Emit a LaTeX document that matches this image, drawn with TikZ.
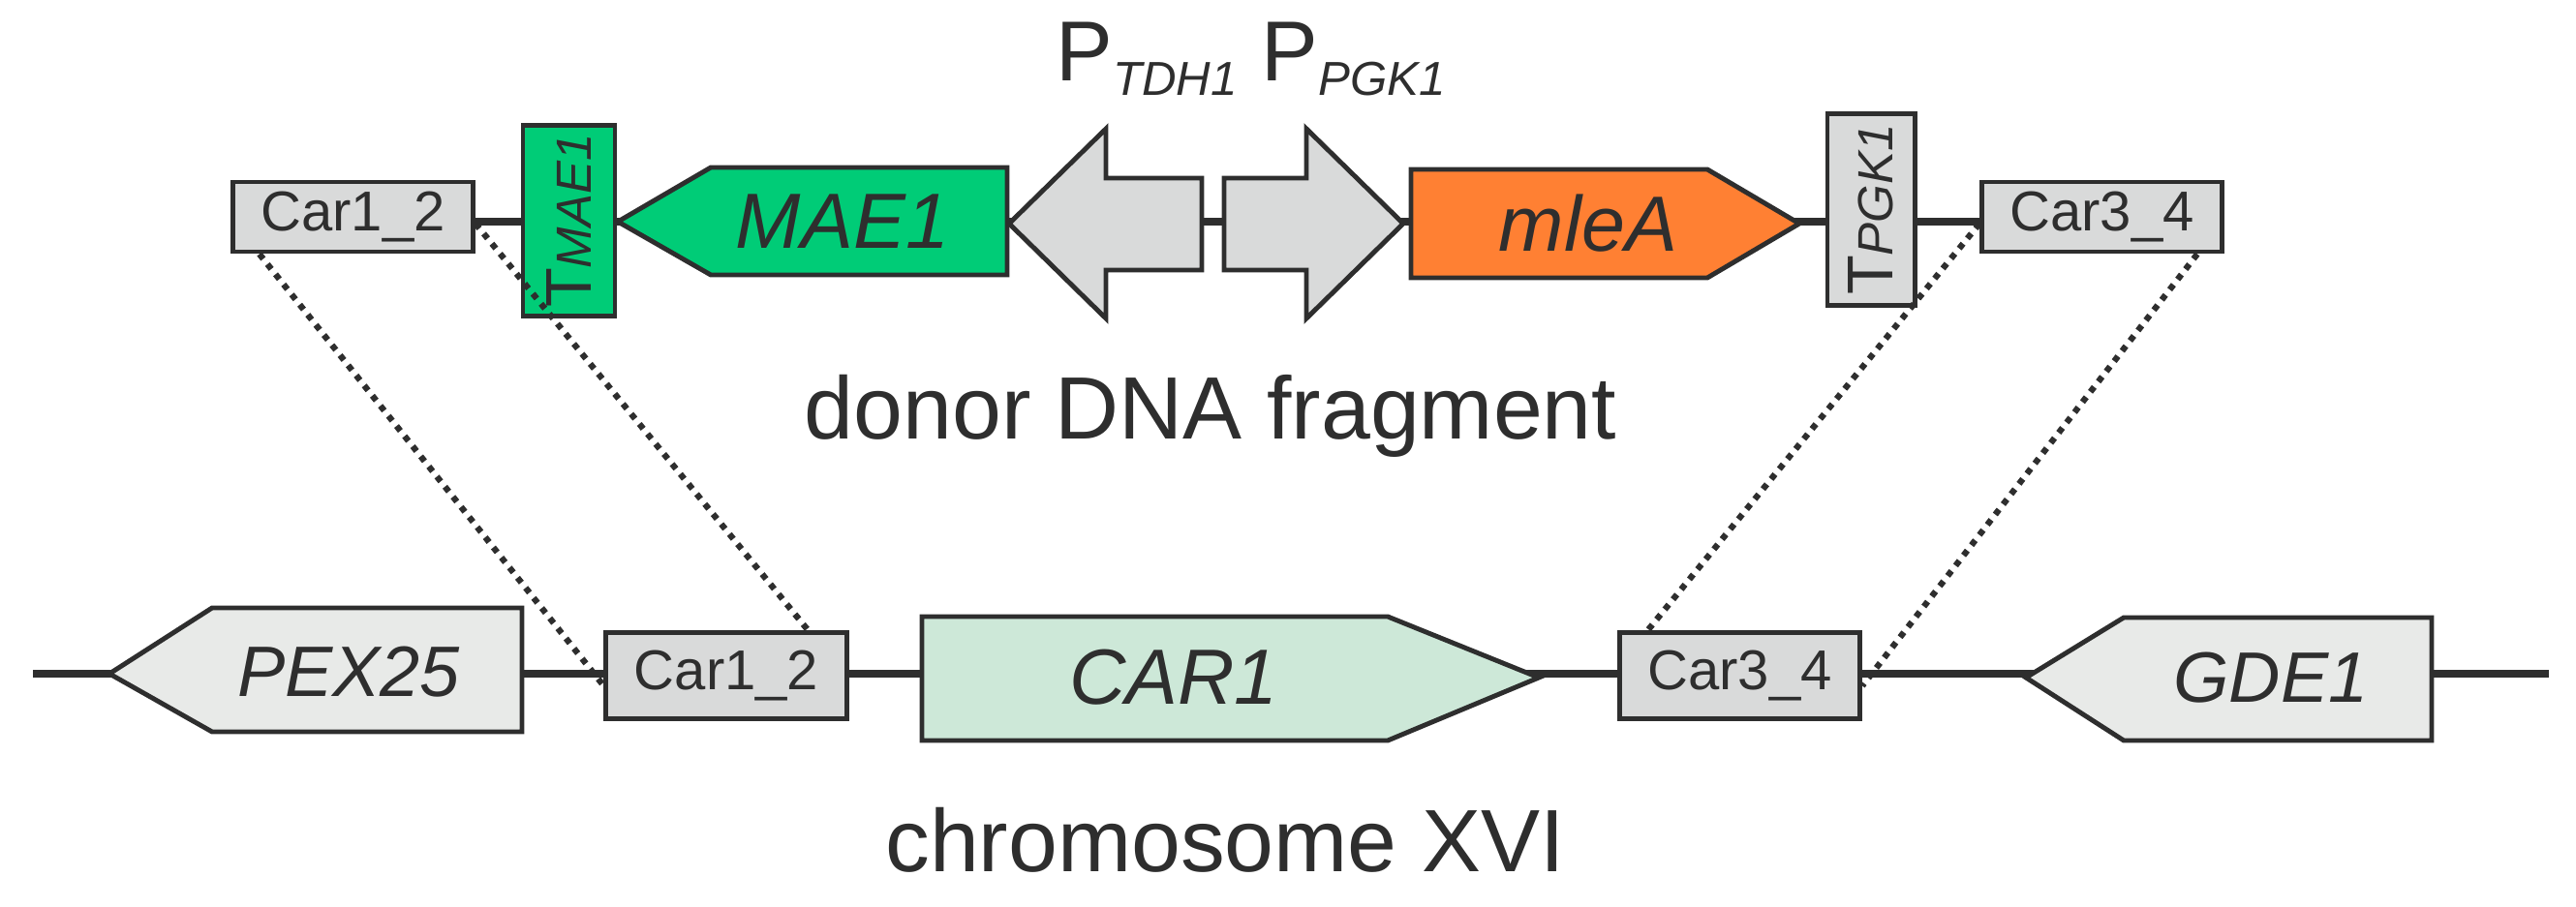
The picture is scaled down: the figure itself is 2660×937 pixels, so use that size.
\documentclass[tikz,border=0pt]{standalone}
\usepackage{fontspec}
\setmainfont{Liberation Sans}
\definecolor{ink}{HTML}{2E2E2E}
\definecolor{boxgray}{HTML}{D9DADA}
\definecolor{genegray}{HTML}{E8EAE8}
\definecolor{maegreen}{HTML}{00CC77}
\definecolor{mleorange}{HTML}{FF8033}
\definecolor{cargreen}{HTML}{CDE8D8}
\begin{document}
\begin{tikzpicture}[x=0.01cm,y=-0.01cm,
  every node/.style={text=ink},
  part/.style={draw=ink, line width=1.4pt},
  backbone/.style={draw=ink, line width=2.4pt},
  link/.style={draw=ink, line width=1.8pt, dotted},
  car/.style={part, fill=boxgray, rectangle, minimum width=2.48cm, inner sep=0pt, font=\fontsize{16.5}{16.5}\selectfont},
  cartop/.style={car, minimum height=0.72cm},
  carbot/.style={car, minimum height=0.89cm},
  gene/.style={font=\fontsize{23}{23}\selectfont\itshape},
  big/.style={font=\fontsize{26}{26}\selectfont}]
\useasboundingbox (0,0) rectangle (2660,937);

% backbones
\coordinate (tl) at (489,229); \coordinate (tr) at (2047,229);
\coordinate (bl) at (34,696);  \coordinate (br) at (2632,696);
\draw[backbone] (tl) -- (tr);
\draw[backbone] (bl) -- (br);

% donor fragment
\node[cartop] (c12t) at (364.5,224) {Car1\_2};
\node[cartop] (c34t) at (2170.5,224) {Car3\_4};
\node[part, fill=maegreen, rectangle, minimum width=0.95cm, minimum height=1.96cm, inner sep=0pt] (tmae) at (587.5,228) {};
\node[rotate=90] at (tmae.center) {\fontsize{19}{19}\selectfont T\fontsize{14.5}{14.5}\selectfont\itshape MAE1};
\node[part, fill=boxgray, rectangle, minimum width=0.90cm, minimum height=1.97cm, inner sep=0pt] (tpgk) at (1932,216.5) {};
\node[rotate=90] at (tpgk.center) {\fontsize{19}{19}\selectfont T\fontsize{14.5}{14.5}\selectfont\itshape PGK1};

\filldraw[part, fill=maegreen] (638,229) -- (734,173) -- (1040,173) -- (1040,284) -- (734,284) -- cycle;
\node[gene] (mae) at (870,229) {MAE1};
\filldraw[part, fill=mleorange] (1457,175) -- (1763,175) -- (1858,231) -- (1763,287) -- (1457,287) -- cycle;
\node[gene] (mle) at (1640,231) {mleA};

\filldraw[part, fill=boxgray] (1042,231) -- (1142,133) -- (1142,184) -- (1241,184) -- (1241,279) -- (1142,279) -- (1142,329) -- cycle;
\filldraw[part, fill=boxgray] (1449,231) -- (1349,133) -- (1349,184) -- (1264,184) -- (1264,279) -- (1349,279) -- (1349,329) -- cycle;
\node[anchor=base west, inner sep=0pt] (ptdh) at (1090,84) {\fontsize{25}{25}\selectfont P\fontsize{14}{14}\selectfont\itshape\raisebox{-0.3em}{TDH1}};
\node[anchor=base west, inner sep=0pt] (ppgk) at (1302,84) {\fontsize{25}{25}\selectfont P\fontsize{14}{14}\selectfont\itshape\raisebox{-0.3em}{PGK1}};
\node[big, anchor=base] (donor) at (1250,454) {donor DNA fragment};

% chromosome
\filldraw[part, fill=genegray] (113,696) -- (219,628) -- (539,628) -- (539,756) -- (219,756) -- cycle;
\node[gene, font=\fontsize{21}{21}\selectfont\itshape] (pex) at (360,694) {PEX25};
\node[carbot] (c12b) at (750,698) {Car1\_2};
\filldraw[part, fill=cargreen] (952,637) -- (1433,637) -- (1589,700) -- (1433,765) -- (952,765) -- cycle;
\node[gene] (car1) at (1212,700) {CAR1};
\node[carbot] (c34b) at (1796.5,698) {Car3\_4};
\filldraw[part, fill=genegray] (2092,700) -- (2193,638) -- (2511,638) -- (2511,765) -- (2193,765) -- cycle;
\node[gene, font=\fontsize{21}{21}\selectfont\itshape] (gde) at (2345,700) {GDE1};
\node[big, anchor=base] (chrom) at (1265,900) {chromosome XVI};

% homology links
\draw[link] ([xshift=8.5pt]c12t.south west) -- ([yshift=-3pt]c12b.west);
\draw[link] ([yshift=-2pt]c12t.east) -- ([xshift=-12pt]c12b.north east);
\draw[link] ([yshift=-2pt]c34t.west) -- ([xshift=9pt]c34b.north west);
\draw[link] ([xshift=-8pt]c34t.south east) -- ([yshift=-3pt]c34b.east);
\end{tikzpicture}
\end{document}
